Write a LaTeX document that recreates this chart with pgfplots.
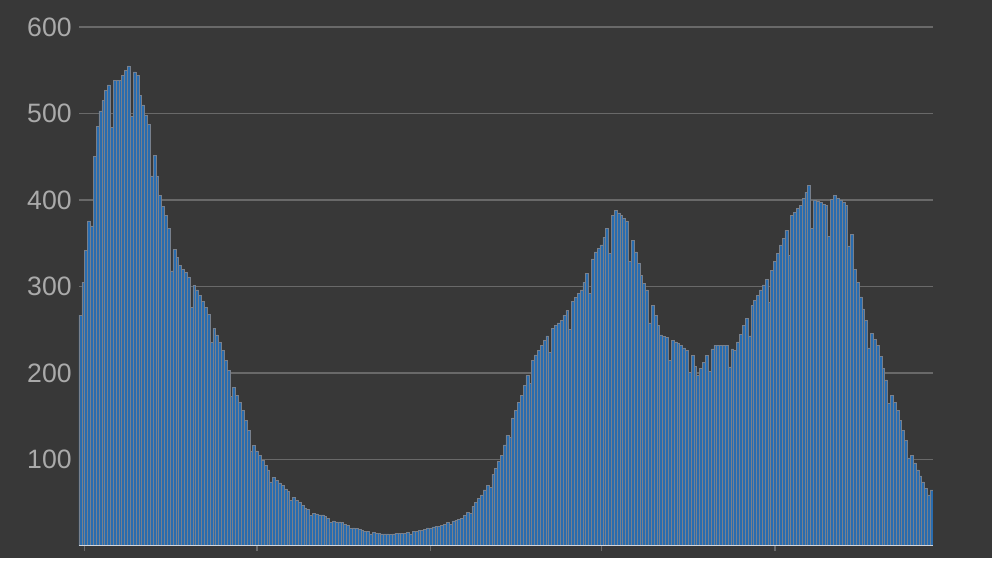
\documentclass[border=0pt]{standalone}
\usepackage{pgfplots}
\pgfplotsset{compat=1.18}
\usepackage{fontspec}
\setmainfont{Liberation Sans}
\definecolor{bg}{RGB}{56,56,56}
\definecolor{barblue}{RGB}{40,108,175}
\definecolor{baredge}{RGB}{120,128,140}
\definecolor{gridc}{RGB}{105,105,105}
\definecolor{tickc}{RGB}{170,170,170}
\definecolor{axisc}{RGB}{205,214,226}
\begin{document}
\begin{tikzpicture}
\fill[bg] (-39.5pt,-6pt) rectangle (456.5pt,273pt);
\begin{axis}[
  at={(0pt,0pt)}, anchor=south west,
  scale only axis, width=427pt, height=259.5pt,
  xmin=-0.5, xmax=299.5, ymin=0, ymax=600,
  axis lines*=left,
  x axis line style={draw=none},
  y axis line style={draw=none},
  ytick={100,200,300,400,500,600},
  ymajorgrids, grid style={draw=gridc, line width=0.7pt},
  ytick style={draw=none},
  xtick={1.5,62,123,183,244}, xticklabels={},
  xtick style={draw=gridc, line width=0.6pt},
  tick align=outside, major tick length=2.5pt,
  /pgf/number format/assume math mode=true,
  yticklabel style={font=\fontsize{13.3}{15}\selectfont, text=tickc, anchor=east, inner sep=0pt, xshift=-1pt},
]
\addplot[ybar, bar width=1, bar shift=0pt, fill=barblue, draw=baredge, line width=0.25pt] coordinates {
(0,267)(1,305)(2,342)(3,376)(4,370)(5,450)(6,485)(7,503)(8,515)(9,527)
(10,533)(11,484)(12,538)(13,538)(14,538)(15,544)(16,550)(17,555)(18,497)(19,548)
(20,544)(21,521)(22,510)(23,498)(24,487)(25,428)(26,452)(27,428)(28,405)(29,393)
(30,382)(31,367)(32,318)(33,343)(34,334)(35,324)(36,320)(37,316)(38,311)(39,276)
(40,301)(41,296)(42,290)(43,283)(44,276)(45,268)(46,235)(47,252)(48,244)(49,235)
(50,226)(51,215)(52,203)(53,173)(54,183)(55,174)(56,166)(57,157)(58,145)(59,134)
(60,110)(61,116)(62,110)(63,105)(64,99)(65,93)(66,88)(67,74)(68,79)(69,76)
(70,73)(71,70)(72,66)(73,63)(74,53)(75,56)(76,53)(77,50)(78,47)(79,44)
(80,42)(81,35)(82,38)(83,37)(84,36)(85,36)(86,34)(87,32)(88,27)(89,29)
(90,28)(91,28)(92,27)(93,25)(94,24)(95,20)(96,21)(97,20)(98,19)(99,18)
(100,17)(101,17)(102,14)(103,16)(104,15)(105,15)(106,14)(107,14)(108,14)(109,13)
(110,14)(111,15)(112,15)(113,15)(114,15)(115,16)(116,14)(117,17)(118,17)(119,18)
(120,18)(121,19)(122,21)(123,20)(124,22)(125,23)(126,23)(127,24)(128,25)(129,27)
(130,25)(131,29)(132,30)(133,31)(134,32)(135,35)(136,39)(137,38)(138,46)(139,50)
(140,55)(141,59)(142,65)(143,70)(144,68)(145,83)(146,90)(147,98)(148,105)(149,117)
(150,128)(151,126)(152,148)(153,157)(154,166)(155,174)(156,186)(157,197)(158,188)(159,215)
(160,221)(161,226)(162,232)(163,238)(164,243)(165,224)(166,252)(167,255)(168,258)(169,261)
(170,267)(171,272)(172,250)(173,283)(174,287)(175,292)(176,296)(177,305)(178,315)(179,292)
(180,332)(181,340)(182,344)(183,348)(184,357)(185,367)(186,338)(187,382)(188,388)(189,385)
(190,382)(191,379)(192,376)(193,329)(194,353)(195,340)(196,327)(197,313)(198,304)(199,296)
(200,258)(201,278)(202,267)(203,255)(204,244)(205,242)(206,241)(207,215)(208,238)(209,236)
(210,234)(211,232)(212,229)(213,226)(214,201)(215,220)(216,208)(217,197)(218,205)(219,212)
(220,220)(221,202)(222,228)(223,232)(224,232)(225,232)(226,232)(227,232)(228,207)(229,228)
(230,226)(231,236)(232,245)(233,255)(234,263)(235,243)(236,278)(237,284)(238,290)(239,296)
(240,302)(241,308)(242,282)(243,319)(244,329)(245,338)(246,348)(247,356)(248,365)(249,336)
(250,382)(251,386)(252,390)(253,394)(254,402)(255,409)(256,417)(257,367)(258,400)(259,398)
(260,397)(261,395)(262,394)(263,358)(264,401)(265,405)(266,402)(267,400)(268,397)(269,394)
(270,347)(271,360)(272,320)(273,305)(274,288)(275,274)(276,261)(277,229)(278,246)(279,239)
(280,232)(281,219)(282,205)(283,192)(284,165)(285,174)(286,166)(287,157)(288,145)(289,134)
(290,122)(291,102)(292,105)(293,96)(294,88)(295,81)(296,74)(297,67)(298,59)(299,65)
};
\draw[axisc, line width=1.2pt] (axis cs:-0.5,0) -- (axis cs:299.5,0);
\end{axis}
\end{tikzpicture}
\end{document}
